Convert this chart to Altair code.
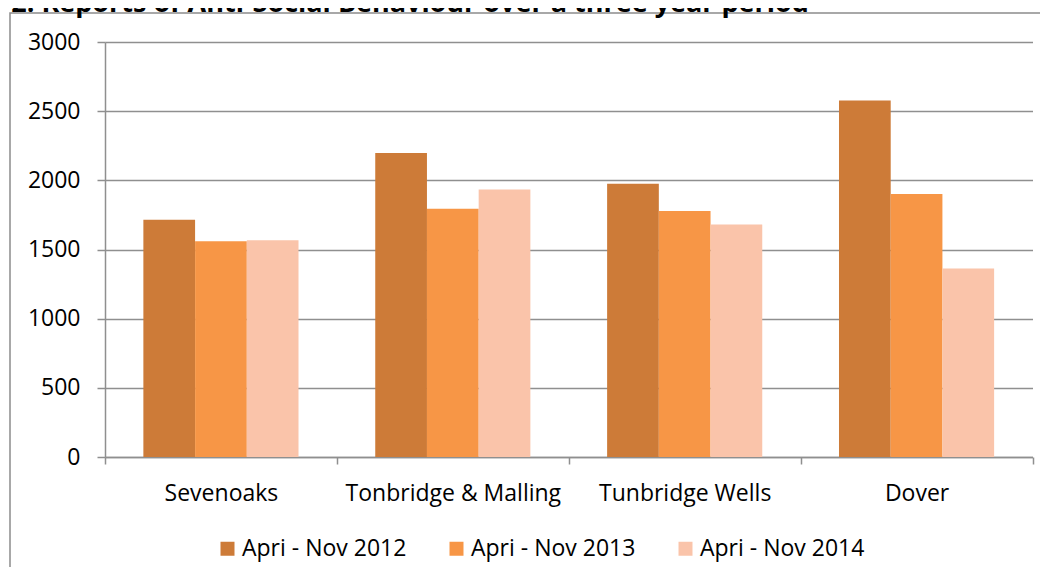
import altair as alt
import pandas as pd

districts = ["Sevenoaks", "Tonbridge & Malling", "Tunbridge Wells", "Dover"]
periods = ["Apri - Nov 2012", "Apri - Nov 2013", "Apri - Nov 2014"]
v2012 = [1715, 2198, 1976, 2577]
v2013 = [1560, 1795, 1778, 1901]
v2014 = [1567, 1933, 1681, 1362]
colors = ["#CD7B38", "#F79646", "#FAC4AA"]
y_ticks = [0, 500, 1000, 1500, 2000, 2500, 3000]
title_text = "Chart 2: Reports of Anti-Social Behaviour over a three year period"

rows = []
for i, d in enumerate(districts):
    for p, vals in zip(periods, [v2012, v2013, v2014]):
        rows.append({"district": d, "period": p, "reports": vals[i]})
df = pd.DataFrame(rows)

FONT = "Open Sans"
GRID = "#8f8f8f"

bars = alt.Chart(df).mark_bar().encode(
    x=alt.X("district:N", sort=districts, title=None,
            scale=alt.Scale(paddingInner=0, paddingOuter=0),
            axis=alt.Axis(tickBand="extent", labelAngle=0, domainColor=GRID,
                          domainWidth=1.5, tickColor=GRID, tickWidth=1.5,
                          tickSize=7, labelPadding=18, labelFontSize=23,
                          labelFont=FONT, labelColor="#000000", labelLimit=0)),
    xOffset=alt.XOffset("period:N", sort=periods,
                        scale=alt.Scale(paddingInner=0, paddingOuter=0.742)),
    y=alt.Y("reports:Q", title=None, scale=alt.Scale(domain=[0, 3000]),
            axis=alt.Axis(values=y_ticks, format="d", grid=True, gridColor=GRID,
                          gridWidth=1.5, domainColor=GRID, domainWidth=1.5,
                          tickColor=GRID, tickWidth=1.5, tickSize=8, labelPadding=17,
                          labelFontSize=23, labelFont=FONT, labelColor="#000000")),
    color=alt.Color("period:N", sort=periods,
                    scale=alt.Scale(domain=periods, range=colors),
                    legend=alt.Legend(title=None, orient="none", legendX=111, legendY=495,
                                      direction="horizontal", columns=3,
                                      symbolType="square", symbolSize=196,
                                      symbolStrokeWidth=0, labelFontSize=23,
                                      labelFont=FONT, labelColor="#000000",
                                      labelOffset=3, columnPadding=38, labelLimit=0)),
)

border = alt.Chart(alt.Data(values=[{}])).mark_rect(
    fill=None, stroke="#8c8c8c", strokeWidth=1.5
).encode(x=alt.value(-95), y=alt.value(-29), x2=alt.value(3000), y2=alt.value(3000))

title = alt.Chart(alt.Data(values=[{"t": title_text}])).mark_text(
    align="left", baseline="alphabetic", font=FONT, fontSize=27,
    fontWeight="bold", color="#000000"
).encode(text="t:N", x=alt.value(-176), y=alt.value(-30))

chart = alt.layer(border, title, bars).properties(
    width=927.5, height=415,
    padding={"left": 97, "top": 34, "right": 7, "bottom": 110},
    autosize=alt.AutoSizeParams(type="none"),
).configure_view(strokeWidth=0)

chart.save("out.html", embed_options={"renderer": "svg", "actions": False})
